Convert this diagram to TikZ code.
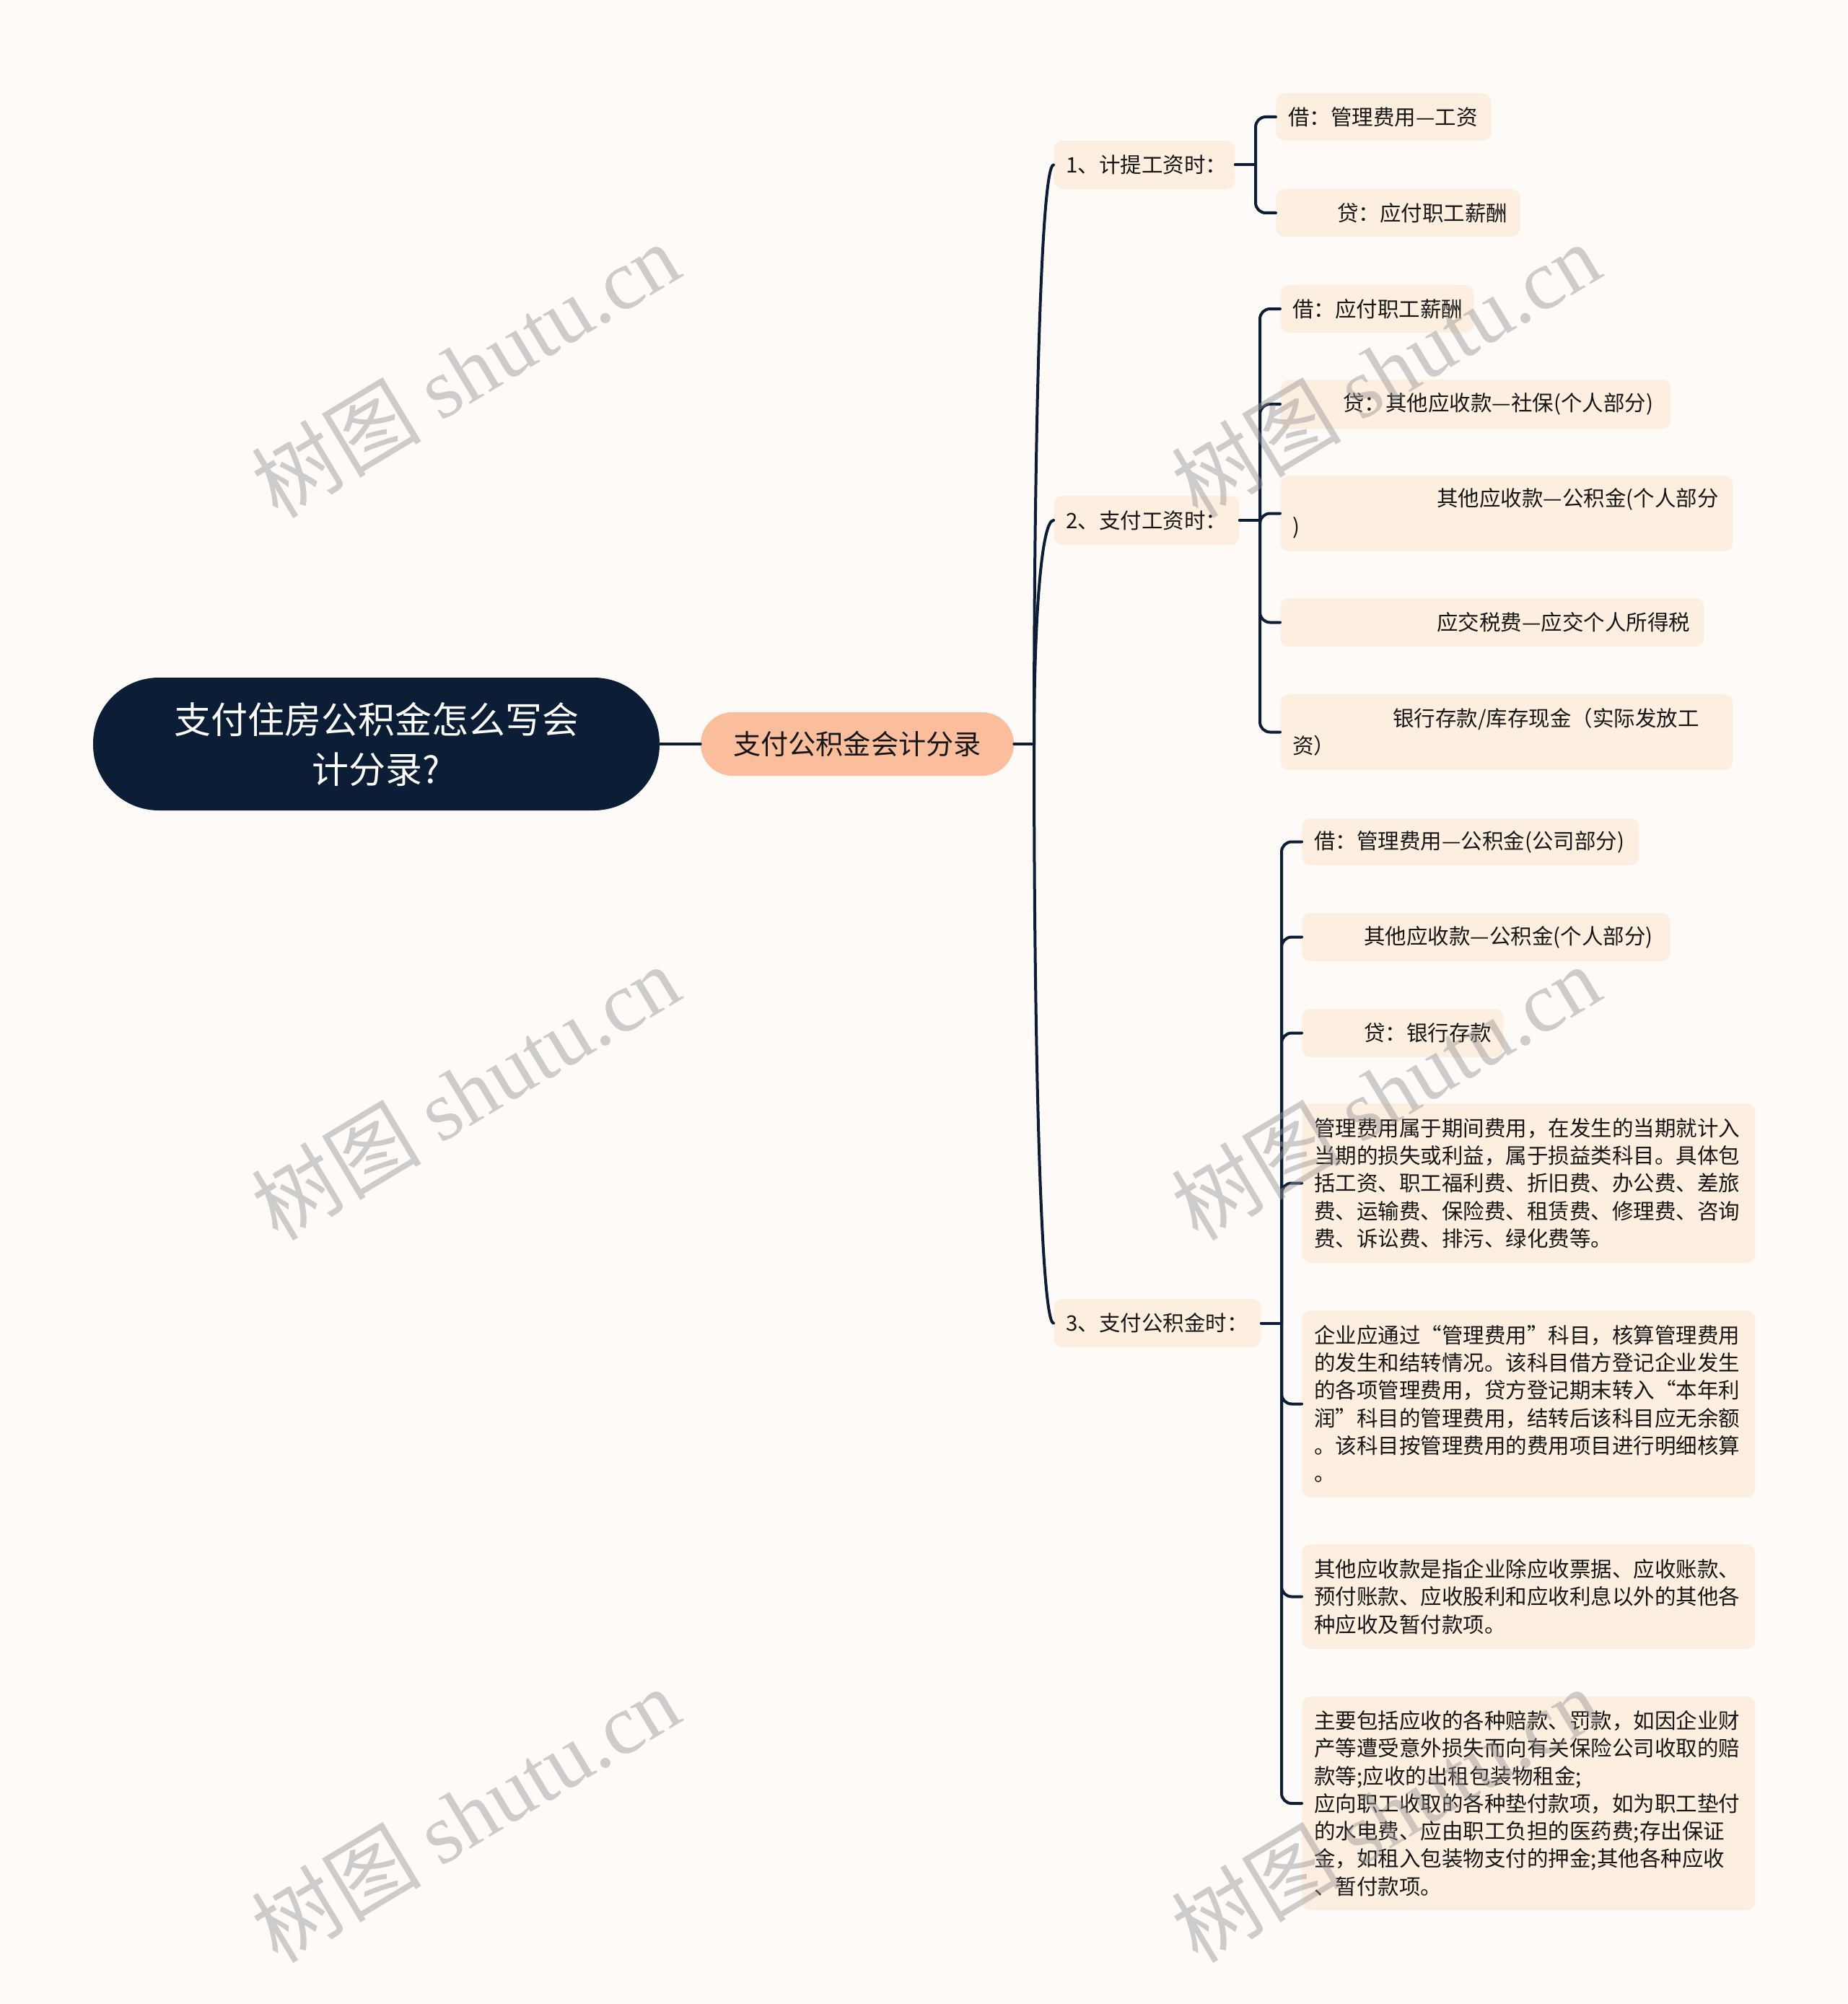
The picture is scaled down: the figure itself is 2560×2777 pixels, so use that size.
\documentclass[tikz,border=0pt]{standalone}
\usepackage{fontspec}
\setmainfont{Noto Sans CJK SC}
\newfontfamily\wmlatin{Liberation Serif}
\newdimen\pxu \pxu=0.5pt
\definecolor{bgcol}{RGB}{253,250,248}
\definecolor{linecol}{RGB}{12,29,54}
\definecolor{rootfill}{RGB}{12,29,54}
\definecolor{mainfill}{RGB}{250,190,156}
\definecolor{leaffill}{RGB}{253,239,223}
\definecolor{txtcol}{RGB}{22,22,22}
\definecolor{wmcol}{RGB}{150,150,150}
\begin{document}
\begin{tikzpicture}[x=0.5pt,y=-0.5pt,
  conn/.style={draw=linecol, line width=4\pxu, line cap=round},
  leaf/.style={fill=leaffill, rounded corners=12\pxu, anchor=west, inner xsep=17\pxu, inner ysep=0pt,
    font=\fontsize{14.75pt}{19.15pt}\selectfont, text=txtcol, align=left},
  wm/.style={text=wmcol, text opacity=0.45, font=\fontsize{59pt}{64pt}\selectfont, rotate=31}
]
\useasboundingbox (0,0) rectangle (2560,2777);
\fill[bgcol] (0,0) rectangle (2560,2777);

% root and main
\node[fill=rootfill, text=white, rounded corners=91\pxu, minimum width=785\pxu, minimum height=184\pxu,
  align=center, font=\fontsize{25.5pt}{34.5pt}\selectfont] (root) at (521.5,1031) {支付住房公积金怎么写会\\计分录?};
\node[fill=mainfill, text=txtcol, rounded corners=44\pxu, minimum width=434\pxu, minimum height=88\pxu,
  font=\fontsize{19.1pt}{24pt}\selectfont] (main) at (1188,1031) {支付公积金会计分录};

% level 2
\node[leaf, minimum width=251\pxu, minimum height=67\pxu, text width=217\pxu] (l1) at (1460,228.5) {1、计提工资时：};
\node[leaf, minimum width=257\pxu, minimum height=68\pxu, text width=223\pxu] (l2) at (1460,721) {2、支付工资时：};
\node[leaf, minimum width=287\pxu, minimum height=67\pxu, text width=253\pxu] (l3) at (1460,1833.5) {3、支付公积金时：};

% group 1
\node[leaf, minimum width=298\pxu, minimum height=66\pxu, text width=264\pxu] (a1) at (1768,162) {借：管理费用—工资};
\node[leaf, minimum width=338\pxu, minimum height=66\pxu, text width=304\pxu] (a2) at (1768,295) {\hspace*{68\pxu}贷：应付职工薪酬};

% group 2
\node[leaf, minimum width=268\pxu, minimum height=66\pxu, text width=234\pxu] (b1) at (1774,428) {借：应付职工薪酬};
\node[leaf, minimum width=541\pxu, minimum height=68\pxu, text width=507\pxu] (b2) at (1774,560) {\hspace*{70\pxu}贷：其他应收款—社保(个人部分)};
\node[leaf, minimum width=627\pxu, minimum height=105\pxu, text width=593\pxu] (b3) at (1774,711.5) {\hspace*{200\pxu}其他应收款—公积金(个人部分\\)};
\node[leaf, minimum width=587\pxu, minimum height=67\pxu, text width=553\pxu] (b4) at (1774,862.5) {\hspace*{200\pxu}应交税费—应交个人所得税};
\node[leaf, minimum width=627\pxu, minimum height=105\pxu, text width=593\pxu] (b5) at (1774,1014.5) {\hspace*{139\pxu}银行存款/库存现金（实际发放工\\资）};

% group 3
\node[leaf, minimum width=467\pxu, minimum height=65\pxu, text width=433\pxu] (c1) at (1804,1166.5) {借：管理费用—公积金(公司部分)};
\node[leaf, minimum width=510\pxu, minimum height=67\pxu, text width=476\pxu] (c2) at (1804,1298.5) {\hspace*{69\pxu}其他应收款—公积金(个人部分)};
\node[leaf, minimum width=279\pxu, minimum height=67\pxu, text width=245\pxu] (c3) at (1804,1431.5) {\hspace*{69\pxu}贷：银行存款};
\node[leaf, minimum width=628\pxu, minimum height=221\pxu, text width=594\pxu] (c4) at (1804,1639.5) {管理费用属于期间费用，在发生的当期就计入\\当期的损失或利益，属于损益类科目。具体包\\括工资、职工福利费、折旧费、办公费、差旅\\费、运输费、保险费、租赁费、修理费、咨询\\费、诉讼费、排污、绿化费等。};
\node[leaf, minimum width=628\pxu, minimum height=259\pxu, text width=594\pxu] (c5) at (1804,1945.5) {企业应通过“管理费用”科目，核算管理费用\\的发生和结转情况。该科目借方登记企业发生\\的各项管理费用，贷方登记期末转入“本年利\\润”科目的管理费用，结转后该科目应无余额\\。该科目按管理费用的费用项目进行明细核算\\。};
\node[leaf, minimum width=628\pxu, minimum height=145\pxu, text width=594\pxu] (c6) at (1804,2212.5) {其他应收款是指企业除应收票据、应收账款、\\预付账款、应收股利和应收利息以外的其他各\\种应收及暂付款项。};
\node[leaf, minimum width=628\pxu, minimum height=296\pxu, text width=594\pxu] (c7) at (1804,2499) {主要包括应收的各种赔款、罚款，如因企业财\\产等遭受意外损失而向有关保险公司收取的赔\\款等;应收的出租包装物租金;\\应向职工收取的各种垫付款项，如为职工垫付\\的水电费、应由职工负担的医药费;存出保证\\金，如租入包装物支付的押金;其他各种应收\\、暂付款项。};

% connectors
\draw[conn] (root.east) -- (main.west);
\coordinate (t0) at (1433,1031);
\draw[conn] (main.east) -- (t0);
\draw[conn] (t0) .. controls (1433,590) and (1443,228.5) .. (l1.west);
\draw[conn] (t0) .. controls (1433,860) and (1443,721) .. (l2.west);
\draw[conn] (t0) .. controls (1433,1472) and (1443,1833.5) .. (l3.west);

\coordinate (j1) at (1740,228.5);
\draw[conn] (l1.east) -- (j1);
\foreach \n in {a1,a2} \draw[conn, rounded corners=14\pxu] (j1) |- (\n.west);

\coordinate (j2) at (1746,721);
\draw[conn] (l2.east) -- (j2);
\foreach \n in {b1,b2,b3,b4,b5} \draw[conn, rounded corners=14\pxu] (j2) |- (\n.west);

\coordinate (j3) at (1776,1833.5);
\draw[conn] (l3.east) -- (j3);
\foreach \n in {c1,c2,c3,c4,c5,c6,c7} \draw[conn, rounded corners=14\pxu] (j3) |- (\n.west);

% watermarks
\node[wm] (w1) at (645,512) {树图 {\wmlatin shutu.cn}};
\node[wm] (w2) at (1920,512) {树图 {\wmlatin shutu.cn}};
\node[wm] (w3) at (645,1513) {树图 {\wmlatin shutu.cn}};
\node[wm] (w4) at (1920,1513) {树图 {\wmlatin shutu.cn}};
\node[wm] (w5) at (645,2514) {树图 {\wmlatin shutu.cn}};
\node[wm] (w6) at (1920,2514) {树图 {\wmlatin shutu.cn}};
\end{tikzpicture}
\end{document}
